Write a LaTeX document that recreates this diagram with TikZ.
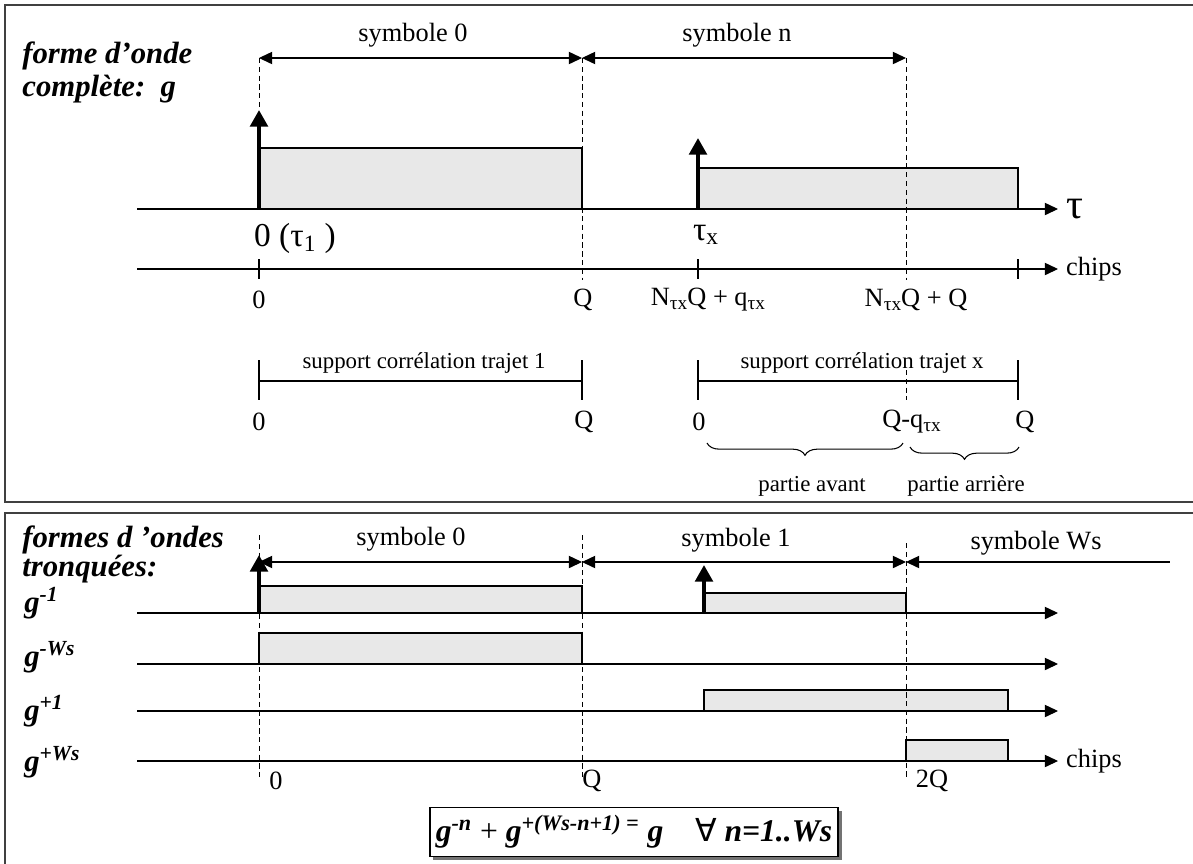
\documentclass[tikz,border=0pt]{standalone}
\usepackage{fontspec}
\setmainfont{Liberation Serif}
\newfontfamily\symfam{DejaVu Sans}
\usetikzlibrary{arrows.meta, shadows, decorations.pathreplacing}
\newcommand{\tauidx}{\raisebox{-0.3ex}{\fontsize{11}{11}\selectfont τx}}
\tikzset{
  panel/.style={draw=black!75, line width=1.1pt},
  axis/.style={-{Triangle[length=7.5pt, width=7pt]}, line width=0.6pt},
  span/.style={{Triangle[length=7.5pt, width=7pt]}-{Triangle[length=7.5pt, width=7pt]}, line width=0.6pt},
  halfspan/.style={{Triangle[length=7.5pt, width=7pt]}-, line width=0.6pt},
  guide/.style={dash pattern=on 3pt off 2pt, line width=0.5pt},
  pulse/.style={draw, fill=black!9, line width=0.6pt},
  dirac/.style={-{Triangle[length=9.5pt, width=10pt]}, line width=2.2pt},
  tick/.style={line width=0.6pt},
  brace/.style={decorate, decoration={brace, mirror, amplitude=7pt}, line width=0.6pt},
  title/.style={font=\fontsize{17.5}{21}\selectfont\bfseries\itshape, anchor=west, inner sep=0pt},
  glabel/.style={font=\fontsize{17.5}{21}\selectfont\bfseries\itshape, anchor=west, inner sep=0pt},
  lab/.style={font=\fontsize{15}{18}\selectfont},
  small/.style={font=\fontsize{13}{15}\selectfont},
  big/.style={font=\fontsize{19}{22}\selectfont},
}
\begin{document}
\begin{tikzpicture}[x=0.02cm, y=-0.02cm]
  \useasboundingbox (0,0) rectangle (1193,863);

  % ---- forme d'onde complete ----
  \draw[panel] (5,5) rectangle (1200,502);
  \node[title] (ttl1) at (22,56) {forme d’onde};
  \node[title] (ttl2) at (22,89) {complète:\ \ g};

  \draw[pulse] (259,148) rectangle (582,209);
  \draw[pulse] (698,168) rectangle (1018,209);
  \draw[axis] (137,209) -- (1058,209) node[right=1pt, font=\fontsize{24}{24}\selectfont] (tau) {τ};
  \draw[axis] (137,269) -- (1058,269) node[right=1pt, lab] (chips) {chips};
  \draw[dirac] (259,209) -- (259,110);
  \draw[dirac] (698,209) -- (698,138);

  \draw[guide] (259,58) -- (259,110);
  \draw[guide] (582,58) -- (582,280);
  \draw[guide] (906,58) -- (906,280);
  \draw[span] (259,58) -- (582,58);
  \draw[span] (582,58) -- (906,58);
  \node[lab] (sym0) at (413,35) {symbole 0};
  \node[lab] (symn) at (737,35) {symbole n};

  \node[big, anchor=west] (tau1) at (248,238) {0 (τ\textsubscript{1} )};
  \node[big] (taux) at (706,235) {τ\textsubscript{x}};

  \foreach \x in {259,698,1018}
    \draw[tick] (\x,259) -- (\x,279);
  \node[lab] (c0) at (259,300) {0};
  \node[lab] (cQ) at (583,300) {Q};
  \node[lab] (cNq) at (708,300) {N\tauidx Q + q\tauidx};
  \node[lab] (cNQ) at (916,300) {N\tauidx Q + Q};

  % supports de correlation
  \draw[tick] (259,381) -- (582,381);
  \draw[tick] (259,360) -- (259,400);
  \draw[tick] (582,360) -- (582,400);
  \node[small] (sup1) at (424,363) {support corrélation trajet 1};
  \node[lab] (s0) at (259,422) {0};
  \node[lab] (sQ) at (584,422) {Q};

  \draw[tick] (698,381) -- (1018,381);
  \draw[tick] (698,360) -- (698,400);
  \draw[tick] (1018,360) -- (1018,400);
  \draw[guide] (906,370) -- (906,400);
  \node[small] (supx) at (862,363) {support corrélation trajet x};
  \node[lab] (x0) at (699,422) {0};
  \node[lab, anchor=west, inner sep=0pt] (xQq) at (882,422) {Q-q\tauidx};
  \node[lab] (xQ) at (1025,422) {Q};
  \draw[brace] (707,443) -- (903,443);
  \draw[brace] (910,447) -- (1019,447);
  \node[small] (avant) at (812,486) {partie avant};
  \node[small] (arriere) at (966,486) {partie arrière};

  % ---- formes d'ondes tronquees ----
  \draw[panel] (5,513) rectangle (1200,870);
  \node[title] (ttl3) at (22,540) {formes d ’ondes};
  \node[title] (ttl4) at (22,569) {tronquées:};
  \node[glabel] (gm1) at (24,603) {g\textsuperscript{-1}};
  \node[glabel] (gmW) at (24,657) {g\textsuperscript{-Ws}};
  \node[glabel] (gp1) at (24,711) {g\textsuperscript{+1}};
  \node[glabel] (gpW) at (24,762) {g\textsuperscript{+Ws}};

  \draw[pulse] (259,586) rectangle (582,613);
  \draw[pulse] (704,593) rectangle (906,613);
  \draw[pulse] (259,633) rectangle (582,664);
  \draw[pulse] (704,690) rectangle (1008,711);
  \draw[pulse] (906,740) rectangle (1008,761);
  \foreach \y in {613,664,711}
    \draw[axis] (137,\y) -- (1058,\y);
  \draw[axis] (137,761) -- (1058,761) node[right=1pt, lab] (chips2) {chips};

  \draw[guide] (259,535) -- (259,778);
  \draw[guide] (582,535) -- (582,778);
  \draw[guide] (906,543) -- (906,778);
  \draw[span] (259,562) -- (582,562);
  \draw[span] (582,562) -- (906,562);
  \draw[halfspan] (906,562) -- (1170,562);
  \draw[dirac] (259,613) -- (259,555);
  \draw[dirac] (704,613) -- (704,565);
  \node[lab] (tsym0) at (411,539) {symbole 0};
  \node[lab] (tsym1) at (736,540) {symbole 1};
  \node[lab] (tsymW) at (1036,543) {symbole Ws};
  \node[lab] (b0) at (276,781) {0};
  \node[lab] (bQ) at (592,781) {Q};
  \node[lab] (b2Q) at (932,781) {2Q};

  \node[draw, line width=0.9pt, fill=white, minimum width=8.1cm, minimum height=0.98cm,
        drop shadow={shadow xshift=0.07cm, shadow yshift=-0.07cm, fill=black!55, opacity=1},
        font=\fontsize{18}{20}\selectfont\bfseries\itshape] (eq) at (634,832)
    {g\textsuperscript{-n} \textup{\mdseries +} g\textsuperscript{+(Ws-n+1) =} g\quad{\symfam\upshape\mdseries ∀} n=1..Ws};
\end{tikzpicture}
\end{document}
